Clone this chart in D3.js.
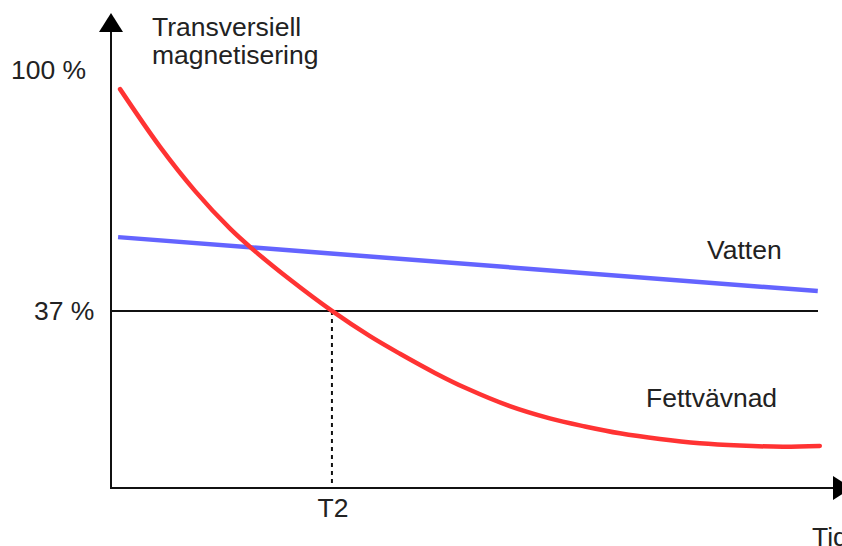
<!DOCTYPE html>
<html>
<head>
<meta charset="utf-8">
<script src="https://cdn.jsdelivr.net/npm/d3@7"></script>
<style>
  html, body { margin: 0; padding: 0; background: #fff; }
  svg { display: block; }
  text { font-family: "Liberation Sans", Arial, sans-serif; fill: #222; }
</style>
</head>
<body>
<svg id="chart" width="842" height="546"></svg>
<script>
// ---- data ----
const fatTime  = [0.041, 0.222, 0.380, 0.539, 0.638, 0.810, 1.000, 1.172, 1.308, 1.466, 1.611, 1.805, 1.986, 2.145, 2.303, 2.484, 2.665, 2.846, 3.041, 3.208];
const fatValue = [95.0, 79.9, 68.4, 58.5, 53.3, 45.2, 37.0, 30.4, 25.8, 20.8, 16.7, 12.1, 8.9, 6.8, 5.0, 3.5, 2.4, 1.8, 1.5, 1.7];
const waterTime  = [0.032, 3.199];
const waterValue = [56.3, 42.2];
const yTickValues = [100, 37];
const yTickLabels = ["100 %", "37 %"];
const t2Value = 1;
const t2Label = "T2";
const yTitle = ["Transversiell", "magnetisering"];
const xTitle = "Tid";
const seriesNames = ["Vatten", "Fettvävnad"];

// ---- scales ----
const svg = d3.select("#chart");
const x = d3.scaleLinear().domain([0, 3.2]).range([111, 818]);
const y = d3.scaleLinear().domain([-9.3, 100]).range([488, 70]);

const x0 = x(0), y0 = y(-9.3);
const FS = 26.5;

// reference line 37 %
svg.append("line")
  .attr("x1", x0).attr("x2", x(3.2))
  .attr("y1", y(37)).attr("y2", y(37))
  .attr("stroke", "#111").attr("stroke-width", 2);

// T2 dotted line
svg.append("line")
  .attr("x1", x(t2Value)).attr("x2", x(t2Value))
  .attr("y1", y(37)).attr("y2", y0)
  .attr("stroke", "#111").attr("stroke-width", 2)
  .attr("stroke-dasharray", "4,4");

// series
svg.append("path")
  .datum(waterTime.map((t, i) => [t, waterValue[i]]))
  .attr("d", d3.line().x(d => x(d[0])).y(d => y(d[1])))
  .attr("fill", "none").attr("stroke", "#6464ff").attr("stroke-width", 4.5);
svg.append("path")
  .datum(fatTime.map((t, i) => [t, fatValue[i]]))
  .attr("d", d3.line().x(d => x(d[0])).y(d => y(d[1])).curve(d3.curveCatmullRom.alpha(0.5)))
  .attr("fill", "none").attr("stroke", "#ff3333").attr("stroke-width", 4.5).attr("stroke-linecap", "round");

// axes
svg.append("line").attr("x1", x0).attr("x2", x0).attr("y1", y0 + 1).attr("y2", 30)
  .attr("stroke", "#111").attr("stroke-width", 2);
svg.append("line").attr("x1", x0 - 1).attr("x2", 834).attr("y1", y0).attr("y2", y0)
  .attr("stroke", "#111").attr("stroke-width", 2);
// arrowheads
svg.append("path").attr("d", `M${x0},13 L${x0 - 12},32 L${x0 + 12},32 Z`).attr("fill", "#000");
svg.append("path").attr("d", `M852,${y0} L833,${y0 - 12} L833,${y0 + 12} Z`).attr("fill", "#000");

// y tick labels
const tickX = [11, 34];
yTickValues.forEach((v, i) => {
  svg.append("text").attr("x", tickX[i]).attr("y", y(v)).attr("dy", "0.33em")
    .attr("font-size", FS).text(yTickLabels[i]);
});

// T2 label
svg.append("text").attr("x", x(t2Value) + 1).attr("y", 517).attr("text-anchor", "middle")
  .attr("font-size", FS).text(t2Label);

// axis titles
svg.append("text").attr("x", 152).attr("y", 36).attr("font-size", FS).text(yTitle[0]);
svg.append("text").attr("x", 152).attr("y", 64).attr("font-size", FS).text(yTitle[1]);
svg.append("text").attr("x", 812).attr("y", 546).attr("font-size", FS).text(xTitle);

// series labels
svg.append("text").attr("x", 707).attr("y", 259).attr("font-size", FS).text(seriesNames[0]);
svg.append("text").attr("x", 646).attr("y", 407).attr("font-size", FS).text(seriesNames[1]);
</script>
</body>
</html>
